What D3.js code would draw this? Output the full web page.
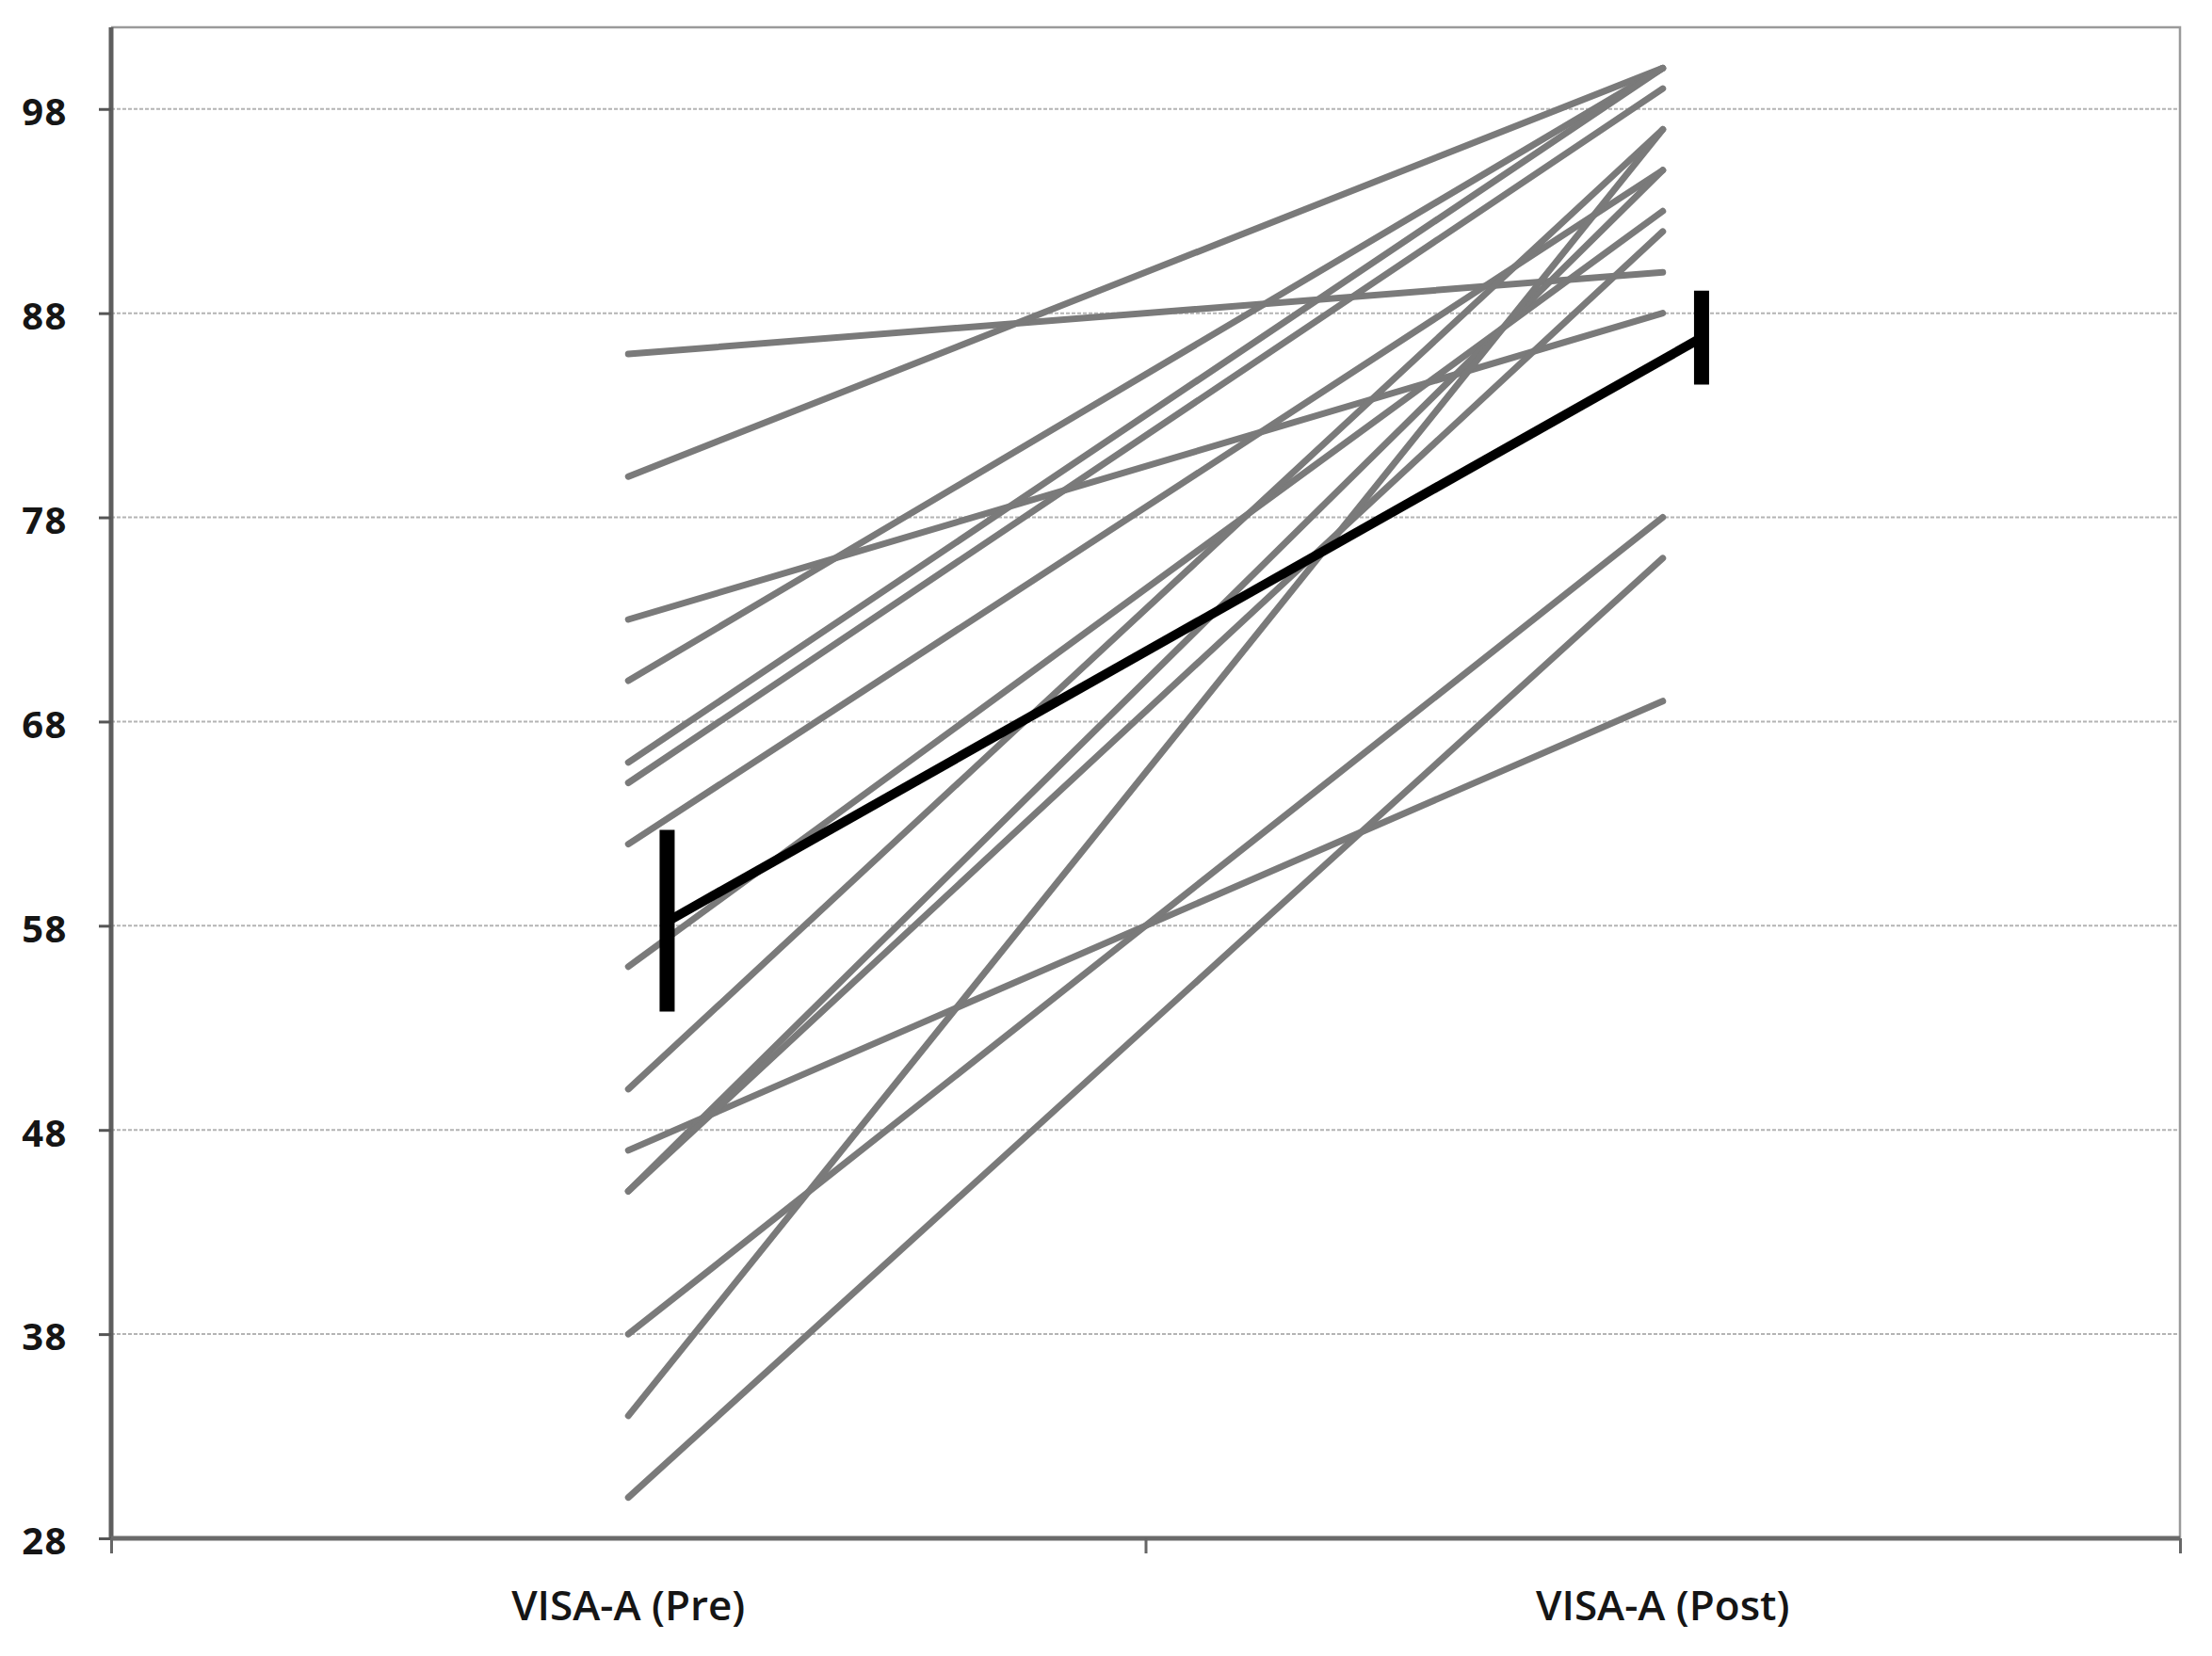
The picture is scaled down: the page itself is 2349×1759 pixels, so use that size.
<!DOCTYPE html>
<html>
<head>
<meta charset="utf-8">
<script src="https://cdn.jsdelivr.net/npm/d3@7"></script>
<style>
  html, body { margin: 0; padding: 0; background: #ffffff; }
  svg { display: block; }
</style>
</head>
<body>
<svg id="chart" width="2349" height="1759"></svg>
<script>
// ---- data ----
const categories = ["VISA-A (Pre)", "VISA-A (Post)"];
const preValues  = [86, 80, 73, 70, 66, 65, 62, 56, 50, 47, 45, 45, 38, 34, 30];
const postValues = [90, 100, 88, 100, 100, 99, 95, 93, 97, 69, 95, 92, 78, 97, 76];
const meanValues = [58.2, 86.8];
const errLow     = [53.8, 84.5];
const errHigh    = [62.7, 89.1];
const yTicks     = [28, 38, 48, 58, 68, 78, 88, 98];
const yDomain    = [28, 102];

// ---- layout ----
const plotLeft = 118, plotRight = 2315, plotTop = 29, plotBottom = 1634;
const svg = d3.select("#chart");

const x = d3.scaleBand().domain(categories).range([plotLeft, plotRight]).padding(0);
const y = d3.scaleLinear().domain(yDomain).range([plotBottom, plotTop]);
const cx = c => x(c) + x.bandwidth() / 2;
const meanOffset = x.bandwidth() * 0.0375;

// gridlines
svg.append("g").selectAll("line").data(yTicks.slice(1)).join("line")
  .attr("x1", plotLeft).attr("x2", plotRight)
  .attr("y1", d => y(d)).attr("y2", d => y(d))
  .attr("stroke", "#b4b4b4").attr("stroke-width", 2)
  .attr("stroke-dasharray", "4,2");

// plot border (top/right)
svg.append("path")
  .attr("d", `M${plotLeft},${plotTop}H${plotRight}V${plotBottom}`)
  .attr("fill", "none").attr("stroke", "#9a9a9a").attr("stroke-width", 2.5);

// individual lines
const line = d3.line().x(d => d[0]).y(d => y(d[1]));
const pairs = preValues.map((p, i) => [[cx(categories[0]), p], [cx(categories[1]), postValues[i]]]);
svg.append("g").selectAll("path").data(pairs).join("path")
  .attr("d", line)
  .attr("fill", "none").attr("stroke", "#7a7a7a")
  .attr("stroke-width", 7).attr("stroke-linecap", "round");

// mean line
const meanPts = categories.map((c, i) => [cx(c) + meanOffset, meanValues[i]]);
svg.append("path").datum(meanPts)
  .attr("d", line)
  .attr("fill", "none").attr("stroke", "#000").attr("stroke-width", 10);

// error bars
svg.append("g").selectAll("line").data(categories).join("line")
  .attr("x1", c => cx(c) + meanOffset).attr("x2", c => cx(c) + meanOffset)
  .attr("y1", (c, i) => y(errLow[i])).attr("y2", (c, i) => y(errHigh[i]))
  .attr("stroke", "#000").attr("stroke-width", 16);

// y axis
const yAxis = svg.append("g").attr("transform", `translate(${plotLeft},0)`)
  .call(d3.axisLeft(y).tickValues(yTicks).tickSize(13).tickPadding(33).tickFormat(d3.format("d")));
yAxis.select(".domain").attr("d", `M0,${plotTop}V${plotBottom}`).attr("stroke", "#5e5e5e").attr("stroke-width", 5);
yAxis.selectAll(".tick line").attr("stroke", "#555").attr("stroke-width", 3);
yAxis.selectAll(".tick text")
  .attr("font-family", "'Open Sans', sans-serif").attr("font-size", 40)
  .attr("font-weight", 700).attr("letter-spacing", 1.5)
  .attr("fill", "#151515").attr("dy", "0.42em");

// x axis boundary ticks
const xb = d3.scaleLinear().domain([0, categories.length]).range([plotLeft, plotRight]);
const xAxisB = svg.append("g").attr("transform", `translate(0,${plotBottom})`)
  .call(d3.axisBottom(xb).tickValues(d3.range(categories.length + 1)).tickSize(16).tickFormat(""));
xAxisB.select(".domain").attr("d", `M${plotLeft},0H${plotRight}`).attr("stroke", "#6a6a6a").attr("stroke-width", 5);
xAxisB.selectAll(".tick line").attr("stroke", "#666").attr("stroke-width", 3);

// x labels
const xAxisL = svg.append("g").attr("transform", `translate(0,${plotBottom})`)
  .call(d3.axisBottom(x).tickSize(0));
xAxisL.select(".domain").remove();
xAxisL.selectAll(".tick text")
  .attr("y", 87).attr("dy", 0)
  .attr("font-family", "'Open Sans', sans-serif").attr("font-size", 44)
  .attr("font-weight", 600).attr("fill", "#151515");
</script>
</body>
</html>
